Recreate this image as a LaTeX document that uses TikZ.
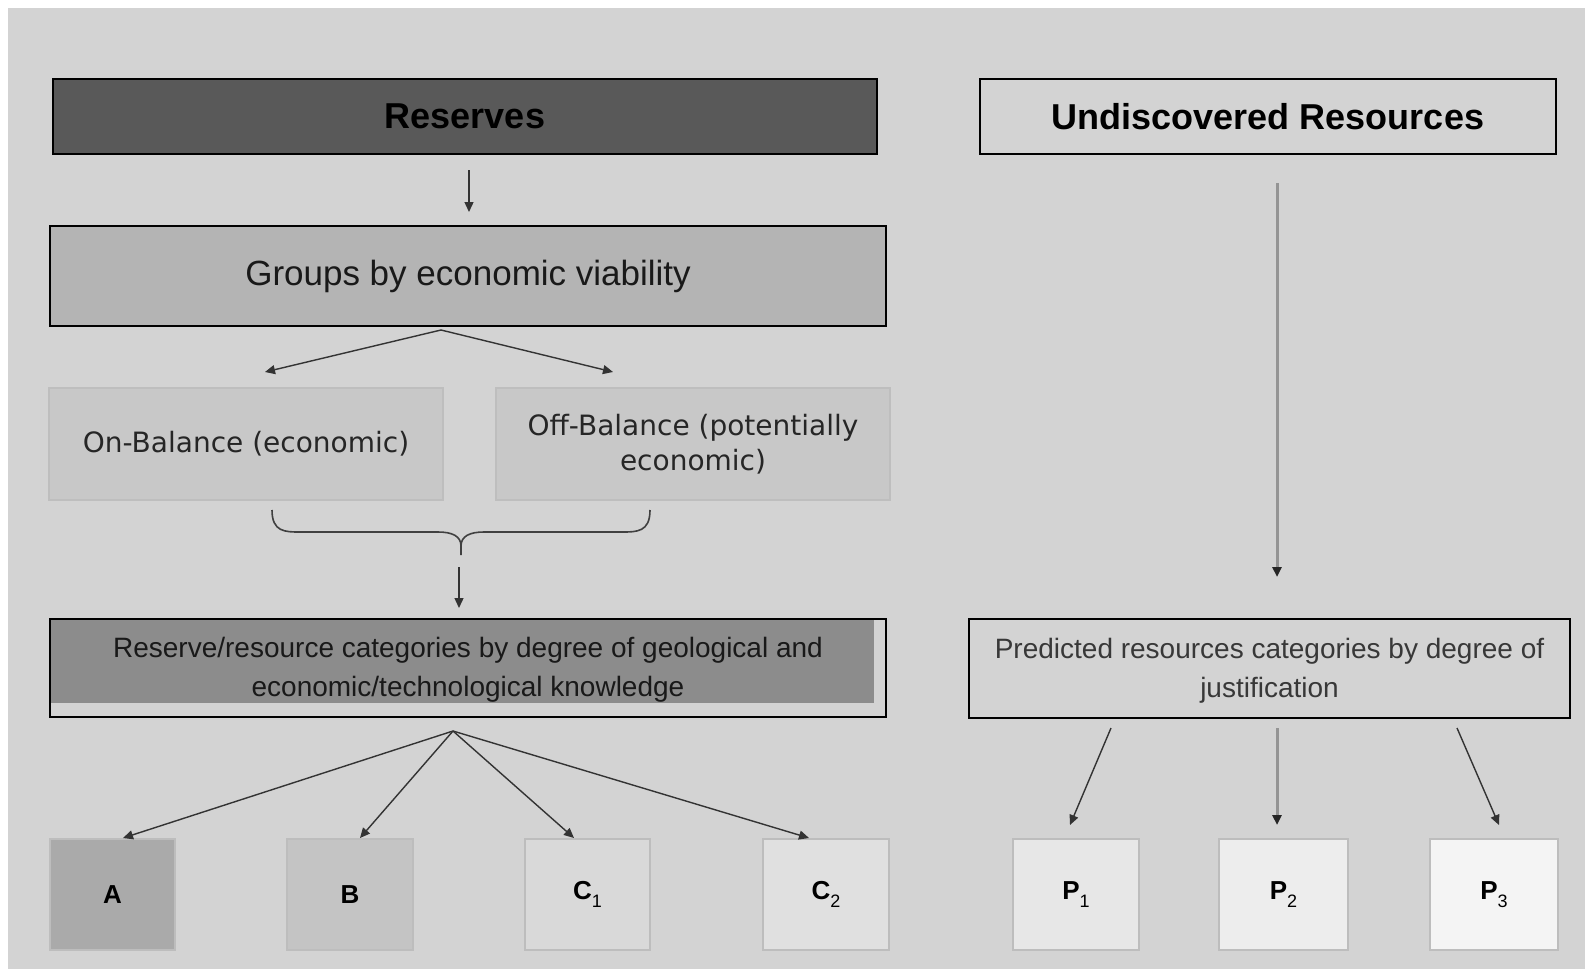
\documentclass[tikz,border=0pt]{standalone}
\usepackage{fontspec}
\setmainfont{Liberation Sans}
\newfontfamily\widefont{DejaVu Sans}
\usetikzlibrary{arrows.meta}

\definecolor{bg}{gray}{0.827}
\definecolor{resfill}{gray}{0.35}
\definecolor{grpfill}{gray}{0.705}
\definecolor{balfill}{gray}{0.785}
\definecolor{catfill}{gray}{0.55}
\definecolor{edgegrey}{gray}{0.74}
\definecolor{fillA}{gray}{0.665}
\definecolor{fillB}{gray}{0.77}
\definecolor{fillCa}{gray}{0.85}
\definecolor{fillCb}{gray}{0.88}
\definecolor{fillPa}{gray}{0.905}
\definecolor{fillPb}{gray}{0.93}
\definecolor{fillPc}{gray}{0.955}

% low-set index digit for the category letters
\newcommand\catidx[1]{\raisebox{-0.55ex}{\fontsize{9}{10}\selectfont\mdseries #1}}

\begin{document}
\begin{tikzpicture}[x=0.5pt,y=-0.5pt,
  every node/.style={inner sep=0pt, outer sep=0pt, align=center},
  box/.style={draw=black, line width=1.1pt},
  soft/.style={draw=edgegrey, line width=1pt},
  arr/.style={draw=black!80, line width=0.7pt, -{Triangle[length=5pt,width=4.5pt]}},
  greyarr/.style={draw=black!42, line width=1.5pt, -{Triangle[length=5pt,width=4.5pt,color=black!85]}},
  bracestyle/.style={draw=black!75, line width=0.8pt},
  title/.style={font=\bfseries\fontsize{18}{20}\selectfont},
  body/.style={font=\fontsize{14}{19.5}\selectfont},
  balance/.style={font=\widefont\fontsize{14}{17.5}\selectfont},
  letter/.style={font=\bfseries\fontsize{13}{15}\selectfont},
  smallbox/.style={soft, minimum width=63pt, minimum height=55.5pt, letter}
]
\useasboundingbox (0,0) rectangle (1585,969);
\fill[white] (0,0) rectangle (1585,969);
\fill[bg] (8,8) rectangle (1585,969);

% ---- left column: reserves ----
\node[box, fill=resfill, minimum width=412pt, minimum height=37.5pt, title] (res) at (465,116.5) {Reserves};
\node[box, fill=grpfill, minimum width=418pt, minimum height=50pt, font=\fontsize{17.5}{20}\selectfont, text=black!90] (grp) at (468,276) {Groups by economic viability};
\node[soft, draw=balfill!95!black, fill=balfill, minimum width=197pt, minimum height=56pt, balance, text=black!85] (onb) at (246,444) {On-Balance (economic)};
\node[soft, draw=balfill!95!black, fill=balfill, minimum width=197pt, minimum height=56pt, balance, text=black!85] (offb) at (693,444) {Off-Balance (potentially\\economic)};

\node[minimum width=418pt, minimum height=49pt] (cat) at (468,668) {};
\fill[catfill] (cat.north west) rectangle ([xshift=-6pt,yshift=7pt]cat.south east);
\draw[box] (cat.north west) rectangle (cat.south east);
\node[body, text=black!90] (cattext) at ([yshift=-1pt]cat.center) {Reserve/resource categories by degree of geological and\\economic/technological knowledge};

\node[smallbox, fill=fillA, minimum width=62.5pt] (A) at (112.5,894.5) {A};
\node[smallbox, fill=fillB] (B) at (350,894.5) {B};
\node[smallbox, fill=fillCa, minimum width=62.5pt] (C1) at (587.5,894.5) {C\catidx{1}};
\node[smallbox, fill=fillCb] (C2) at (826,894.5) {C\catidx{2}};

% connector end points on the left
\coordinate (r1) at (469,170);
\coordinate (r2) at (469,212);
\coordinate (split) at (441,330);
\coordinate (tipOn) at (265,372);
\coordinate (tipOff) at (613,372);
\coordinate (b1) at (459,567);
\coordinate (b2) at (459,608);
\coordinate (fan) at (453,731);
\coordinate (tA) at (123,838);
\coordinate (tB) at (360,838);
\coordinate (tC1) at (574,838);
\coordinate (tC2) at (809,838);

\draw[arr] (r1) -- (r2);
\draw[arr] (split) -- (tipOn);
\draw[arr] (split) -- (tipOff);
\draw[arr] (b1) -- (b2);
\draw[arr] (fan) -- (tA);
\draw[arr] (fan) -- (tB);
\draw[arr] (fan) -- (tC1);
\draw[arr] (fan) -- (tC2);

% curly brace joining the two balance groups
\draw[bracestyle] (272,510) .. controls (272,532) and (285,532) .. (300,532) -- (438,532)
  .. controls (452,532) and (461,536) .. (461,546) -- (461,555);
\draw[bracestyle] (650,510) .. controls (650,532) and (637,532) .. (622,532) -- (484,532)
  .. controls (470,532) and (461,536) .. (461,546);

% ---- right column: undiscovered resources ----
\node[box, fill=bg, minimum width=288pt, minimum height=37.5pt, title] (und) at (1268,116.5) {Undiscovered Resources};
\node[box, fill=bg, minimum width=300.5pt, minimum height=49.5pt] (pred) at (1269.5,668.5) {};
\node[body, text=black!78] (predtext) at ([yshift=-1pt]pred.center) {Predicted resources categories by degree of\\justification};

\node[smallbox, fill=fillPa] (P1) at (1076,894.5) {P\catidx{1}};
\node[smallbox, fill=fillPb, minimum width=64.5pt] (P2) at (1283.5,894.5) {P\catidx{2}};
\node[smallbox, fill=fillPc, minimum width=64pt] (P3) at (1494,894.5) {P\catidx{3}};

\coordinate (u1) at (1277,183);
\coordinate (u2) at (1277,577);
\coordinate (pA0) at (1111,728);
\coordinate (pA1) at (1070,825);
\coordinate (pB0) at (1277,728);
\coordinate (pB1) at (1277,825);
\coordinate (pC0) at (1457,728);
\coordinate (pC1) at (1499,825);

\draw[greyarr] (u1) -- (u2);
\draw[arr] (pA0) -- (pA1);
\draw[greyarr] (pB0) -- (pB1);
\draw[arr] (pC0) -- (pC1);
\end{tikzpicture}
\end{document}
